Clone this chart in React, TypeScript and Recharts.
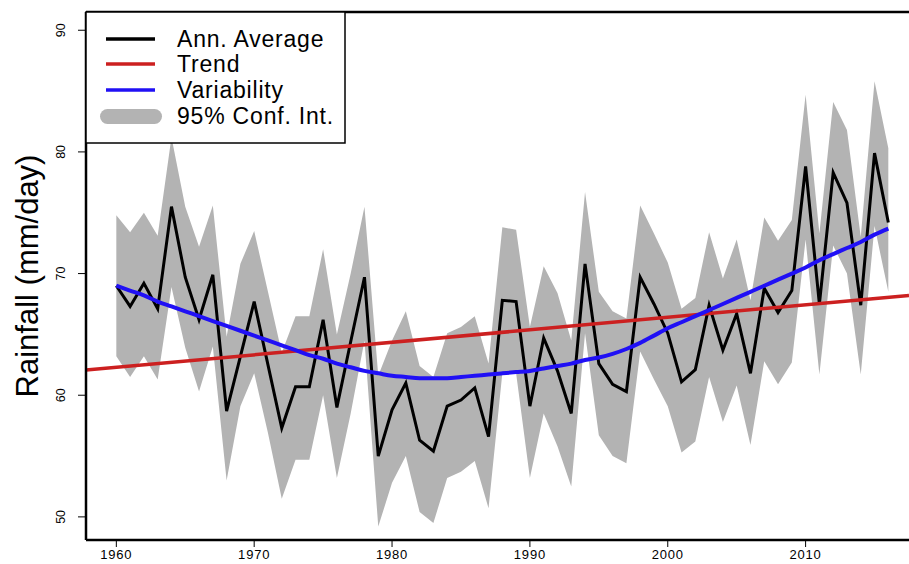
import React from 'react'
import { ComposedChart, Line, Area, XAxis, YAxis, ReferenceLine } from 'recharts'

const FONT = '"Liberation Sans", Arial, Helvetica, sans-serif'

const years = [
  1960, 1961, 1962, 1963, 1964, 1965, 1966, 1967, 1968, 1969,
  1970, 1971, 1972, 1973, 1974, 1975, 1976, 1977, 1978, 1979,
  1980, 1981, 1982, 1983, 1984, 1985, 1986, 1987, 1988, 1989,
  1990, 1991, 1992, 1993, 1994, 1995, 1996, 1997, 1998, 1999,
  2000, 2001, 2002, 2003, 2004, 2005, 2006, 2007, 2008, 2009,
  2010, 2011, 2012, 2013, 2014, 2015, 2016,
]

// annual average rainfall (mm/day)
const annAverage = [
  69.0, 67.3, 69.2, 67.1, 75.5, 69.7, 66.2, 69.9, 58.7, 63.2,
  67.7, 62.5, 57.3, 60.7, 60.7, 66.2, 59.0, 64.4, 69.7, 55.0,
  58.8, 61.0, 56.3, 55.4, 59.1, 59.6, 60.6, 56.6, 67.8, 67.7,
  59.1, 64.7, 62.0, 58.5, 70.8, 62.6, 60.9, 60.3, 69.7, 67.5,
  65.1, 61.1, 62.1, 67.4, 63.7, 66.7, 61.8, 68.8, 66.8, 68.6,
  78.8, 67.5, 78.3, 75.8, 67.4, 79.9, 74.2,
]

const ciUpper = [
  74.8, 73.4, 75.0, 73.1, 81.2, 75.5, 72.2, 75.6, 64.8, 70.8,
  73.5, 68.5, 63.5, 66.5, 66.5, 72.0, 65.0, 70.0, 75.5, 61.6,
  64.5, 66.9, 62.4, 61.5, 65.1, 65.6, 66.5, 62.6, 73.8, 73.6,
  65.6, 70.6, 68.4, 64.5, 76.7, 68.5, 66.9, 66.3, 75.6, 73.3,
  70.9, 67.1, 68.0, 73.4, 69.6, 72.8, 67.8, 74.6, 72.7, 74.4,
  84.7, 73.3, 84.1, 81.8, 73.0, 85.8, 80.3,
]

const ciLower = [
  63.2, 61.5, 63.2, 61.3, 68.9, 63.9, 60.3, 64.0, 53.0, 59.1,
  61.8, 56.9, 51.5, 54.7, 54.7, 60.0, 53.2, 58.5, 64.5, 49.2,
  52.8, 55.0, 50.4, 49.5, 53.2, 53.7, 54.6, 50.7, 61.8, 61.8,
  53.2, 58.5, 55.8, 52.5, 65.1, 56.7, 55.0, 54.4, 63.6, 61.3,
  59.1, 55.3, 56.2, 61.5, 57.8, 60.8, 55.9, 62.8, 60.9, 62.7,
  72.8, 61.7, 72.3, 70.0, 61.7, 73.9, 68.5,
]

// smooth fit ("Variability")
const variability = [
  69.0, 68.6, 68.2, 67.7, 67.3, 66.9, 66.5, 66.1, 65.7, 65.3,
  64.9, 64.5, 64.1, 63.7, 63.3, 63.0, 62.6, 62.3, 62.0, 61.8,
  61.6, 61.5, 61.4, 61.4, 61.4, 61.5, 61.6, 61.7, 61.8, 61.9,
  62.0, 62.2, 62.4, 62.6, 62.9, 63.1, 63.4, 63.8, 64.3, 64.9,
  65.5, 66.0, 66.5, 67.0, 67.5, 68.0, 68.5, 69.0, 69.5, 70.0,
  70.5, 71.1, 71.6, 72.1, 72.6, 73.2, 73.7,
]

// linear trend, drawn edge to edge of the plot
const trendYears = [1957.8, 2017.5]
const trendValues = [62.07, 68.2]

const xTicks = [1960, 1970, 1980, 1990, 2000, 2010]
const yTicks = [50, 60, 70, 80, 90]
const xDomain: [number, number] = [1957.8, 2017.5]
const yDomain: [number, number] = [48.1, 91.5]

const rows = years.map((year, i) => ({
  year,
  avg: annAverage[i],
  ci: [ciLower[i], ciUpper[i]],
  smooth: variability[i],
}))

const trendRows = trendYears.map((year, i) => ({ year, trend: trendValues[i] }))

const YTick = ({ x, y, payload }: any) => (
  <text
    x={x}
    y={y}
    transform={`rotate(-90, ${x}, ${y})`}
    textAnchor="middle"
    fontSize={12.5}
    fontFamily={FONT}
    fill="#000"
  >
    {payload.value}
  </text>
)

const XTick = ({ x, y, payload }: any) => (
  <text x={x} y={y + 9} textAnchor="middle" fontSize={13} fontFamily={FONT} letterSpacing={0.8} fill="#000">
    {payload.value}
  </text>
)

function LegendBox() {
  const items = [
    { label: 'Ann. Average', color: '#000', y: 39 },
    { label: 'Trend', color: '#CC2020', y: 64 },
    { label: 'Variability', color: '#2010F5', y: 90 },
  ]
  const txt = { fontSize: 23, fontFamily: FONT, fill: '#000', letterSpacing: 0.8 }
  return (
    <svg width={909} height={564} style={{ position: 'absolute', left: 0, top: 0, pointerEvents: 'none' }}>
      <rect x={86} y={12} width={259} height={131} fill="#fff" stroke="#000" strokeWidth={1.5} />
      {items.map(it => (
        <g key={it.label}>
          <line x1={106} x2={155} y1={it.y} y2={it.y} stroke={it.color} strokeWidth={3.5} />
          <text x={177} y={it.y + 8} style={txt}>{it.label}</text>
        </g>
      ))}
      <rect x={100} y={109} width={62} height={15} rx={7.5} fill="#B3B3B3" />
      <text x={177} y={124} style={txt}>95% Conf. Int.</text>
    </svg>
  )
}

export default function App() {
  return (
    <div style={{ position: 'absolute', left: 0, top: 0, width: 909, height: 564, background: '#fff' }}>
      <ComposedChart width={909} height={564} data={rows} margin={{ top: 12, right: 0, bottom: 0, left: 0 }}>
        <XAxis
          dataKey="year"
          type="number"
          domain={xDomain}
          ticks={xTicks}
          allowDataOverflow
          height={24}
          tickSize={7}
          tickMargin={3}
          axisLine={{ stroke: '#000', strokeWidth: 2.5 }}
          tickLine={{ stroke: '#000', strokeWidth: 1 }}
          tick={<XTick />}
        />
        <YAxis
          type="number"
          domain={yDomain}
          ticks={yTicks}
          allowDataOverflow
          width={86}
          tickSize={8}
          tickMargin={13}
          axisLine={{ stroke: '#000', strokeWidth: 2.5 }}
          tickLine={{ stroke: '#000', strokeWidth: 1 }}
          tick={<YTick />}
          label={{
            value: 'Rainfall (mm/day)',
            angle: -90,
            position: 'insideLeft',
            offset: 27,
            style: { fontSize: 31, fontFamily: FONT, fill: '#000', textAnchor: 'middle' },
          }}
        />
        <ReferenceLine y={yDomain[1]} stroke="#000" strokeWidth={2.5} />
        <Area
          dataKey="ci"
          type="linear"
          fill="#B3B3B3"
          fillOpacity={1}
          stroke="none"
          isAnimationActive={false}
        />
        <Line dataKey="avg" type="linear" stroke="#000" strokeWidth={3} dot={false} isAnimationActive={false} />
        <Line
          data={trendRows}
          dataKey="trend"
          type="linear"
          stroke="#CC2020"
          strokeWidth={3.5}
          dot={false}
          isAnimationActive={false}
        />
        <Line dataKey="smooth" type="monotone" stroke="#2010F5" strokeWidth={4} dot={false} isAnimationActive={false} />
      </ComposedChart>
      <LegendBox />
    </div>
  )
}
